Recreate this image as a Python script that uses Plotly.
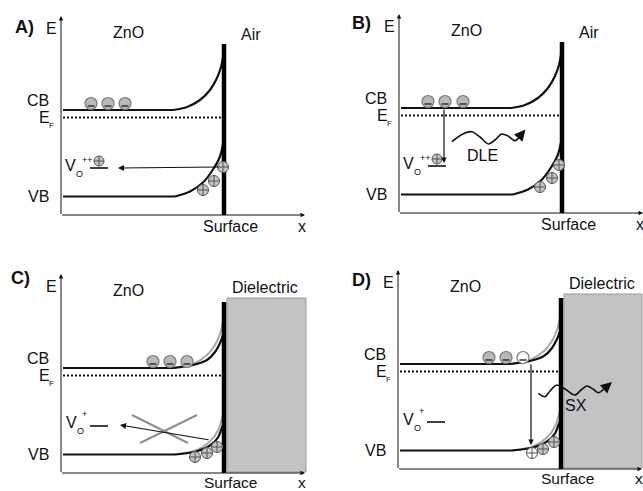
import plotly.graph_objects as go

W, H = 643, 491
FONT = "Liberation Sans, Arial, sans-serif"
INK = "#111111"

# ---- panel layout (axis origin of each panel, pixels) ----
panel_names = ["A)", "B)", "C)", "D)"]
origin_x = [61, 399, 61, 398]
origin_y = [215, 213, 473, 469]
letter_x = [24, 361, 20, 361]
letter_y = [27, 23, 278, 280]
medium = ["Air", "Air", "Dielectric", "Dielectric"]

# ---- energy levels relative to the axis origin (up = negative) ----
cb_level = -105
ef_level = -97.5
vb_level = -18.5
vo_level = -47
flat_start = 2
surface_x = 163
surface_top = -171
axis_top = -199
axis_right = 244

# ---- band bending near the surface ----
air_cb_x = [112, 126, 139, 149, 156, 160, 162, 163]
air_cb_rise = [0, 3, 10, 20, 32, 43, 53, 62]
air_vb_x = [114, 129, 142, 152, 159, 162, 163]
air_vb_rise = [0, 5, 14, 27, 40, 52, 56]

diel_cb_x = [112, 132, 146, 154, 159, 162, 163]
diel_cb_rise = [0, 3, 8, 16, 25, 33, 37]
diel_cb_rise_before = [0, 4, 13, 23, 34, 46, 52]
diel_vb_x = [114, 135, 149, 157, 161, 163]
diel_vb_rise = [0, 3, 9, 17, 27, 31]
diel_vb_rise_before = [0, 4, 13, 24, 36, 42]

# ---- carriers ----
electron_x = [[30, 47, 64], [29, 46, 64], [92, 109, 126], [91, 108, 125]]
electron_y = -111.5
electron_white = [[0, 0, 0], [0, 0, 0], [0, 0, 0], [0, 0, 1]]
hole_x = [[162, 153, 142], [160, 153, 141], [134, 146, 156], [134, 145, 156]]
hole_y = [[-48, -34, -25], [-48, -35, -26], [-16, -20, -26], [-16, -20, -27]]
hole_white = [[0, 0, 0], [0, 0, 0], [0, 0, 0], [1, 0, 0]]
vo_charge = ["++", "++", "+", "+"]
vo_hole = [True, True, False, False]
vo_line_x = [29, 47]

# ---- transitions ----
capture_arrow = {0: [(159, -48), (57, -47)], 2: [(149, -33), (59, -48)]}
cross_lines = [[(71, -58), (127, -30)], [(79, -30), (136, -58)]]
recomb_arrow = {1: [(45, -105), (45, -50)], 3: [(133, -106), (133, -24)]}
dle_wave_x = [53, 62, 72.7, 81, 89.3, 96, 102.7, 109, 116, 121]
dle_wave_y = [-71.3, -78, -81.3, -76, -69, -73, -79, -77, -72.3, -77]
dle_head = (126.5, -83.5)
sx_wave_x = [140.3, 147, 152, 158.7, 167, 177, 183, 188.7, 195, 200.3, 206]
sx_wave_y = [-75.7, -72.3, -78, -84, -80, -74, -79, -83, -80, -76.3, -80]
sx_head = (214, -87)

box_x = [166, 245]
box_y = [-175, -1]

fig = go.Figure()
shapes = []
ann = []


def line(xs, ys, color=INK, width=2, dash="solid", shape="linear"):
    fig.add_trace(go.Scatter(x=xs, y=ys, mode="lines", hoverinfo="skip",
                             line=dict(color=color, width=width, dash=dash,
                                       shape=shape, smoothing=0.8)))


def arrow(x0, y0, x1, y1, width=1.2, size=1.0, head=2):
    ann.append(dict(x=x1, y=y1, ax=x0, ay=y0, xref="x", yref="y",
                    axref="x", ayref="y", showarrow=True, arrowhead=head,
                    arrowsize=size, arrowwidth=width, arrowcolor=INK,
                    standoff=0, startstandoff=0, text=""))


def text(x, y, s, size=16, xanchor="center", bold=False):
    ann.append(dict(x=x, y=y, xref="x", yref="y", text=("<b>%s</b>" % s) if bold else s,
                    showarrow=False, xanchor=xanchor, yanchor="middle", borderpad=0,
                    font=dict(family=FONT, size=size, color=INK)))


for p in range(4):
    ox, oy = origin_x[p], origin_y[p]
    diel = medium[p] == "Dielectric"

    if diel:
        shapes.append(dict(type="rect", xref="x", yref="y", layer="below",
                           x0=ox + box_x[0], x1=min(ox + box_x[1], W - 1),
                           y0=oy + box_y[0], y1=oy + box_y[1],
                           fillcolor="#c3c3c3", line=dict(color="#9c9c9c", width=1)))

    # axes
    arrow(ox, oy + 0.5, ox, oy + axis_top, width=1, size=0.9)
    arrow(ox - 0.5, oy, ox + axis_right, oy, width=1, size=0.9)

    # bands
    if diel:
        cbx, cbr, vbx, vbr = diel_cb_x, diel_cb_rise, diel_vb_x, diel_vb_rise
        line([ox + v for v in diel_cb_x], [oy + cb_level - r for r in diel_cb_rise_before],
             color="#a8a8a8", width=2, shape="spline")
        line([ox + v for v in diel_vb_x], [oy + vb_level - r for r in diel_vb_rise_before],
             color="#a8a8a8", width=2, shape="spline")
    else:
        cbx, cbr, vbx, vbr = air_cb_x, air_cb_rise, air_vb_x, air_vb_rise
    for lvl, bx, br in ((cb_level, cbx, cbr), (vb_level, vbx, vbr)):
        line([ox + flat_start, ox + bx[0]], [oy + lvl, oy + lvl], width=2.2)
        line([ox + v for v in bx], [oy + lvl - r for r in br], width=2.2, shape="spline")

    # Fermi level
    line([ox + flat_start, ox + surface_x - 1], [oy + ef_level, oy + ef_level],
         width=2, dash="2px,2px")

    # surface
    line([ox + surface_x, ox + surface_x], [oy, oy + surface_top], width=4.5, color="#000")

    # oxygen vacancy level
    line([ox + vo_line_x[0], ox + vo_line_x[1]], [oy + vo_level, oy + vo_level], width=1.6)

    # gray cross (blocked transition)
    if p == 2:
        for (a, b) in cross_lines:
            line([ox + a[0], ox + b[0]], [oy + a[1], oy + b[1]], color="#8e8e8e", width=2)

    # waves
    if p == 1:
        line([ox + v for v in dle_wave_x], [oy + v for v in dle_wave_y], width=1.6, shape="spline")
        arrow(ox + dle_wave_x[-1], oy + dle_wave_y[-1], ox + dle_head[0], oy + dle_head[1],
              width=1.6, size=1.4)
    if p == 3:
        line([ox + v for v in sx_wave_x], [oy + v for v in sx_wave_y], width=1.6, shape="spline")
        arrow(ox + sx_wave_x[-1], oy + sx_wave_y[-1], ox + sx_head[0], oy + sx_head[1],
              width=1.6, size=1.4)

    # electrons
    ex = [ox + v for v in electron_x[p]]
    fills = ["#ffffff" if w else "#b9b9b9" for w in electron_white[p]]
    fig.add_trace(go.Scatter(x=ex, y=[oy + electron_y] * 3, mode="markers", hoverinfo="skip",
                             marker=dict(size=12, color=fills,
                                         line=dict(color="#7a7a7a", width=1.2))))
    fig.add_trace(go.Scatter(x=ex, y=[oy + electron_y + 2.5] * 3, mode="markers", hoverinfo="skip",
                             marker=dict(size=5, symbol="line-ew",
                                         line=dict(color="#333", width=1.5))))
    # holes
    hfills = ["#ffffff" if w else "#c4c4c4" for w in hole_white[p]]
    fig.add_trace(go.Scatter(x=[ox + v for v in hole_x[p]], y=[oy + v for v in hole_y[p]],
                             mode="markers", hoverinfo="skip",
                             marker=dict(size=11, symbol="circle-cross", color=hfills,
                                         line=dict(color="#555", width=1))))
    if vo_hole[p]:
        fig.add_trace(go.Scatter(x=[ox + 38], y=[oy - 54], mode="markers", hoverinfo="skip",
                                 marker=dict(size=10, symbol="circle-cross", color="#c4c4c4",
                                             line=dict(color="#555", width=1))))

    # transitions
    if p in capture_arrow:
        (a, b) = capture_arrow[p]
        arrow(ox + a[0], oy + a[1], ox + b[0], oy + b[1], width=1.2, size=1.0)
    if p in recomb_arrow:
        (a, b) = recomb_arrow[p]
        arrow(ox + a[0], oy + a[1], ox + b[0], oy + b[1], width=1.2, size=0.9)

    # texts
    text(letter_x[p], letter_y[p], panel_names[p], size=18, bold=True)
    text(ox - 10, oy - 187, "E", size=16)
    text(ox + 67, oy - 183, "ZnO", size=16)
    if diel:
        text(ox + 204, oy - 186, "Dielectric", size=16)
    else:
        text(ox + 190, oy - 181, "Air", size=16)
    text(ox - 11, oy + cb_level - 10, "CB", size=16, xanchor="right")
    text(ox - 17, oy + ef_level, "E", size=16)
    text(ox - 10, oy + ef_level + 8, "F", size=8)
    text(ox - 11, oy + vb_level, "VB", size=16, xanchor="right")
    # V_O label built from pieces
    vx = 9 if not diel else 10
    vy = -50 if p != 2 else -51
    text(ox + vx, oy + vy, "V", size=16)
    text(ox + vx + 9, oy + vy + 9, "O", size=9)
    if vo_charge[p] == "++":
        text(ox + 26.5, oy + vy - 5, "++", size=9)
    else:
        text(ox + vx + 13, oy + vy - 8, "+", size=9)
    bottom_dy = 11 if not diel else 9.5
    bottom_fs = 16 if not diel else 15.5
    text(ox + 169, oy + bottom_dy, "Surface", size=bottom_fs)
    text(ox + 241, oy + bottom_dy, "x", size=bottom_fs)
    if p == 1:
        text(ox + 83, oy - 58, "DLE", size=16)
    if p == 3:
        text(ox + 178, oy - 64, "SX", size=16)

fig.update_layout(
    width=W, height=H, margin=dict(l=0, r=0, t=0, b=0),
    paper_bgcolor="white", plot_bgcolor="white", showlegend=False,
    xaxis=dict(range=[0, W], visible=False, fixedrange=True),
    yaxis=dict(range=[H, 0], visible=False, fixedrange=True),
    shapes=shapes, annotations=ann,
)
fig.write_html("out.html", config={"displayModeBar": False},
               post_script="document.body.style.margin='0';document.body.style.overflow='hidden';")
